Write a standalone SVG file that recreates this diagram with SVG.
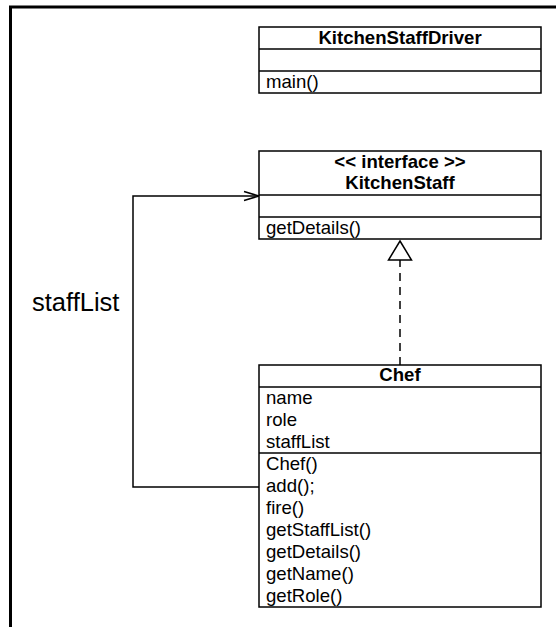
<svg xmlns="http://www.w3.org/2000/svg" width="556" height="627" viewBox="0 0 556 627">
<style>
.box{fill:#fff;stroke:#000;stroke-width:1.5}
.ln{stroke:#000;stroke-width:1.5;fill:none}
.t{font-family:"Liberation Sans",Arial,sans-serif;font-size:18.6px;fill:#000}
.b{font-weight:bold;text-anchor:middle}
</style>
<rect width="556" height="627" fill="#fff"/>
<g id="frame">
<line x1="9" y1="7" x2="556" y2="7" stroke="#000" stroke-width="3"/>
<line x1="10.5" y1="6" x2="10.5" y2="627" stroke="#000" stroke-width="3"/>
</g>
<g id="connectors">
<polyline class="ln" points="259,487 133,487 133,196 258,196"/>
<polyline class="ln" points="244,191.5 259,196 244,200.5"/>
<line class="ln" x1="400" y1="365" x2="400" y2="260" stroke-dasharray="8,6"/>
<polygon class="box" points="400,241 411.5,260 388.5,260"/>
</g>
<g id="KitchenStaffDriver">
<rect class="box" x="259" y="27" width="282" height="66"/>
<line class="ln" x1="259" y1="49" x2="541" y2="49"/>
<line class="ln" x1="259" y1="71" x2="541" y2="71"/>
<text class="t b" x="400" y="44">KitchenStaffDriver</text>
<text class="t" x="266" y="88">main()</text>
</g>
<g id="KitchenStaff">
<rect class="box" x="259" y="151" width="282" height="88"/>
<line class="ln" x1="259" y1="195" x2="541" y2="195"/>
<line class="ln" x1="259" y1="217" x2="541" y2="217"/>
<text class="t b" x="400" y="168">&lt;&lt; interface &gt;&gt;</text>
<text class="t b" x="400" y="189">KitchenStaff</text>
<text class="t" x="266" y="234">getDetails()</text>
</g>
<g id="Chef">
<rect class="box" x="259" y="365" width="282" height="242"/>
<line class="ln" x1="259" y1="387" x2="541" y2="387"/>
<line class="ln" x1="259" y1="453" x2="541" y2="453"/>
<text class="t b" x="400" y="381">Chef</text>
<text class="t" x="266" y="404">name</text>
<text class="t" x="266" y="426">role</text>
<text class="t" x="266" y="448">staffList</text>
<text class="t" x="266" y="470">Chef()</text>
<text class="t" x="266" y="492">add();</text>
<text class="t" x="266" y="514">fire()</text>
<text class="t" x="266" y="536">getStaffList()</text>
<text class="t" x="266" y="558">getDetails()</text>
<text class="t" x="266" y="580">getName()</text>
<text class="t" x="266" y="602">getRole()</text>
</g>
<g id="label-staffList">
<text x="32" y="311" font-family="Liberation Sans, Arial, sans-serif" font-size="25.5">staffList</text>
</g>
</svg>
